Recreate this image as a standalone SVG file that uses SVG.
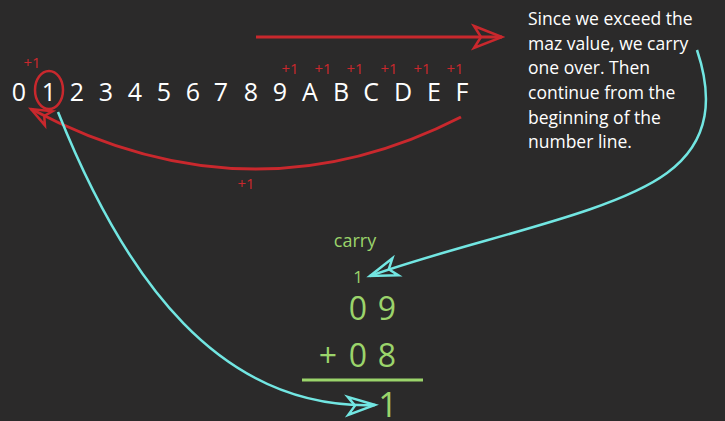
<svg xmlns="http://www.w3.org/2000/svg" width="725" height="421" viewBox="0 0 725 421">
<style>
.bg{fill:#2b2a2a}
.num{font-family:"Open Sans","Noto Sans",sans-serif;font-size:25px;fill:#ffffff;text-anchor:middle}
.plus{font-family:"Open Sans","Noto Sans",sans-serif;font-size:15px;fill:#c9282d;text-anchor:middle}
.note{font-family:"Open Sans","Noto Sans",sans-serif;font-size:17.5px;fill:#ffffff}
.grn{font-family:"Open Sans","Noto Sans",sans-serif;fill:#9bd46b;text-anchor:middle}
.red{fill:none;stroke:#c9282d;stroke-width:3}
.cyan{fill:none;stroke:#72e6e2;stroke-width:2.5}
</style>
<defs>
<marker id="ahRed" markerUnits="userSpaceOnUse" markerWidth="40" markerHeight="30" refX="28" refY="11" orient="auto" overflow="visible">
<path d="M0,0 L28,11 L0,22 L7,11 Z" fill="none" stroke="#c9282d" stroke-width="2.5" stroke-linejoin="miter"/>
</marker>
<marker id="ahRedS" markerUnits="userSpaceOnUse" markerWidth="30" markerHeight="24" refX="20" refY="8" orient="auto" overflow="visible">
<path d="M0,0 L20,8 L0,16 L5,8 Z" fill="none" stroke="#c9282d" stroke-width="2.5"/>
</marker>
<marker id="ahCyan" markerUnits="userSpaceOnUse" markerWidth="40" markerHeight="30" refX="27" refY="9" orient="auto" overflow="visible">
<path d="M0,0 L27,9 L0,18 L7,9 Z" fill="none" stroke="#72e6e2" stroke-width="2.5"/>
</marker>
</defs>
<rect class="bg" x="0" y="0" width="725" height="421"/>

<g id="numberline">
<text class="num" x="19" y="101">0</text>
<text class="num" x="49" y="101">1</text>
<text class="num" x="77" y="101">2</text>
<text class="num" x="106" y="101">3</text>
<text class="num" x="135" y="101">4</text>
<text class="num" x="164" y="101">5</text>
<text class="num" x="193" y="101">6</text>
<text class="num" x="221" y="101">7</text>
<text class="num" x="251" y="101">8</text>
<text class="num" x="280" y="101">9</text>
<text class="num" x="310" y="101">A</text>
<text class="num" x="341" y="101">B</text>
<text class="num" x="371" y="101">C</text>
<text class="num" x="403" y="101">D</text>
<text class="num" x="434" y="101">E</text>
<text class="num" x="462" y="101">F</text>
<ellipse cx="49" cy="90" rx="14" ry="19" fill="none" stroke="#c9282d" stroke-width="2.5"/>
</g>

<g id="plus-labels">
<text class="plus" x="32" y="68">+1</text>
<text class="plus" x="290" y="74">+1</text>
<text class="plus" x="323" y="74">+1</text>
<text class="plus" x="355" y="74">+1</text>
<text class="plus" x="389" y="74">+1</text>
<text class="plus" x="422" y="74">+1</text>
<text class="plus" x="455" y="74">+1</text>
<text class="plus" x="246" y="189">+1</text>
</g>

<g id="note">
<text class="note" x="528" y="25">Since we exceed the</text>
<text class="note" x="528" y="50">maz value, we carry</text>
<text class="note" x="528" y="74">one over. Then</text>
<text class="note" x="528" y="99">continue from the</text>
<text class="note" x="528" y="124">beginning of the</text>
<text class="note" x="528" y="148">number line.</text>
</g>

<g id="sum">
<text class="grn" x="355" y="247" font-size="18">carry</text>
<text class="grn" x="358" y="283" font-size="17">1</text>
<text class="grn" x="358" y="320" font-size="32">0</text>
<text class="grn" x="387" y="320" font-size="32">9</text>
<text class="grn" x="328" y="367" font-size="32">+</text>
<text class="grn" x="358" y="367" font-size="32">0</text>
<text class="grn" x="387" y="367" font-size="32">8</text>
<line x1="302" y1="380" x2="423" y2="380" stroke="#9bd46b" stroke-width="3"/>
<text class="grn" x="388" y="417" font-size="34">1</text>
</g>

<g id="connectors">
<path class="red" d="M256,37 L502,37" marker-end="url(#ahRed)"/>
<path class="red" d="M461,117 Q250,225 31,109" marker-end="url(#ahRedS)"/>
<path class="cyan" d="M58,112 C125,280 220,410 375,405" marker-end="url(#ahCyan)"/>
<path class="cyan" d="M697,50 C712,95 712,140 667,173 C610,215 470,240 370,276" marker-end="url(#ahCyan)"/>
</g>
</svg>
